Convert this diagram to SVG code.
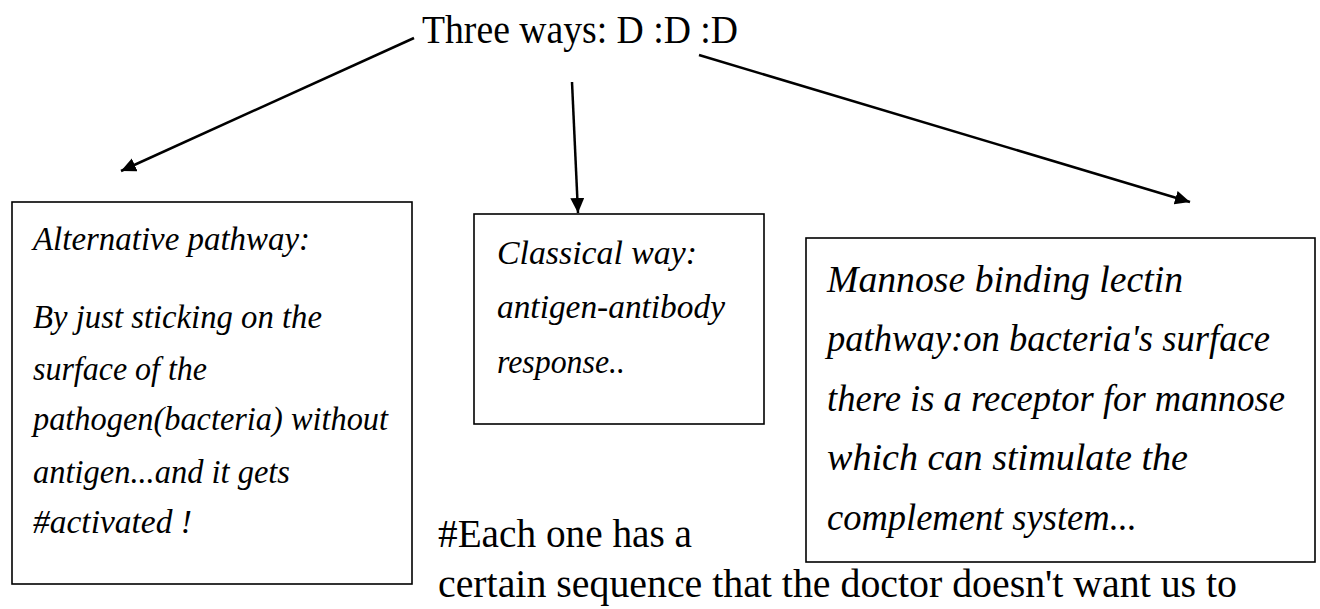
<svg xmlns="http://www.w3.org/2000/svg" width="1320" height="609" viewBox="0 0 1320 609">
<style>
.box{fill:#fff;stroke:#000;stroke-width:1.6}
.conn{stroke:#000;stroke-width:2.5;fill:none}
.it{font-family:"Liberation Serif",serif;font-style:italic;fill:#000}
.rg{font-family:"Liberation Serif",serif;fill:#000;font-size:40px}
</style>
<defs>
<marker id="ah" markerUnits="userSpaceOnUse" markerWidth="16" markerHeight="15" refX="15" refY="7" orient="auto">
<path d="M0,0 L15,7 L0,14 Z" fill="#000"/>
</marker>
</defs>
<rect width="1320" height="609" fill="#fff"/>
<g id="title">
<text class="rg" x="422" y="43" textLength="316" lengthAdjust="spacingAndGlyphs">Three ways: D :D :D</text>
</g>
<g id="connectors">
<line class="conn" x1="414" y1="38" x2="121" y2="171" marker-end="url(#ah)"/>
<line class="conn" x1="572" y1="82" x2="578" y2="213" marker-end="url(#ah)"/>
<line class="conn" x1="699" y1="55" x2="1190" y2="202" marker-end="url(#ah)"/>
</g>
<g id="alternative">
<rect class="box" x="12" y="202" width="400" height="382"/>
<g class="it" font-size="33">
<text x="33" y="250" textLength="277" lengthAdjust="spacingAndGlyphs">Alternative pathway:</text>
<text x="33" y="328" textLength="289" lengthAdjust="spacingAndGlyphs">By just sticking on the</text>
<text x="33" y="380" textLength="174" lengthAdjust="spacingAndGlyphs">surface of the</text>
<text x="33" y="430" textLength="355" lengthAdjust="spacingAndGlyphs">pathogen(bacteria) without</text>
<text x="33" y="483" textLength="257" lengthAdjust="spacingAndGlyphs">antigen...and it gets</text>
<text x="33" y="533" textLength="159" lengthAdjust="spacingAndGlyphs">#activated !</text>
</g>
</g>
<g id="classical">
<rect class="box" x="474" y="214" width="290" height="210"/>
<g class="it" font-size="34">
<text x="497" y="264" textLength="200" lengthAdjust="spacingAndGlyphs">Classical way:</text>
<text x="497" y="318" textLength="228" lengthAdjust="spacingAndGlyphs">antigen-antibody</text>
<text x="497" y="373" textLength="128" lengthAdjust="spacingAndGlyphs">response..</text>
</g>
</g>
<g id="mannose">
<rect class="box" x="806" y="238" width="509" height="324"/>
<g class="it" font-size="37">
<text x="827" y="292" textLength="356" lengthAdjust="spacingAndGlyphs">Mannose binding lectin</text>
<text x="827" y="351" textLength="443" lengthAdjust="spacingAndGlyphs">pathway:on bacteria's surface</text>
<text x="827" y="411" textLength="458" lengthAdjust="spacingAndGlyphs">there is a receptor for mannose</text>
<text x="827" y="470" textLength="361" lengthAdjust="spacingAndGlyphs">which can stimulate the</text>
<text x="827" y="530" textLength="310" lengthAdjust="spacingAndGlyphs">complement system...</text>
</g>
</g>
<g id="note">
<text class="rg" x="438" y="547" textLength="254" lengthAdjust="spacingAndGlyphs">#Each one has a</text>
<text class="rg" x="438" y="597" textLength="799" lengthAdjust="spacingAndGlyphs">certain sequence that the doctor doesn't want us to</text>
</g>
</svg>
